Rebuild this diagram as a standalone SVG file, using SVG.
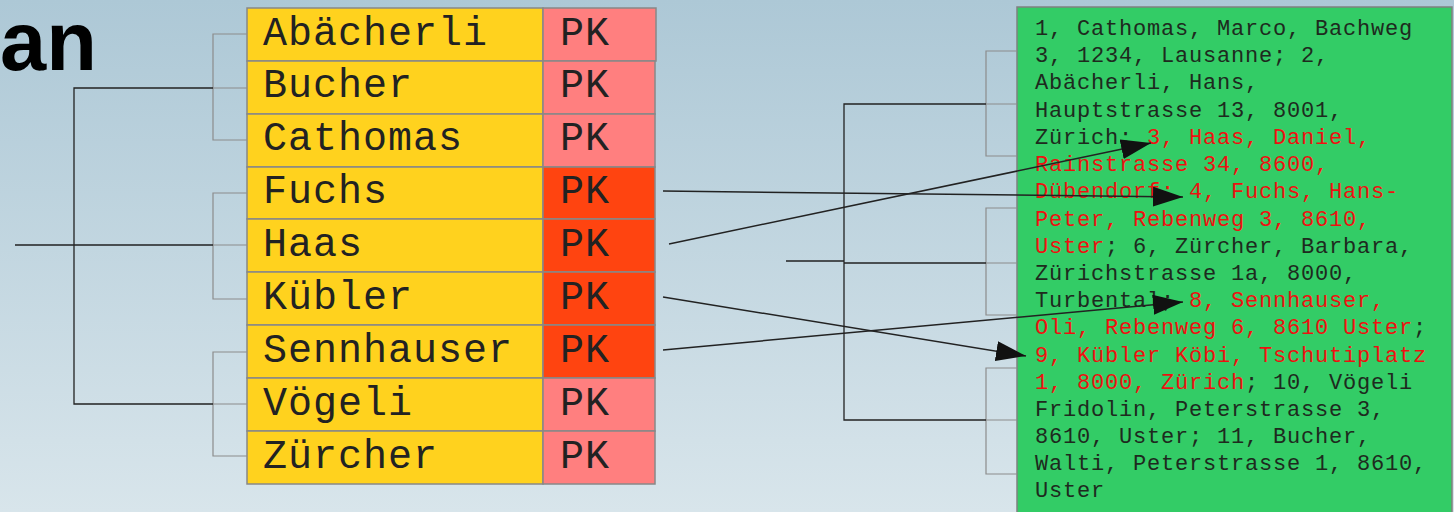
<svg xmlns="http://www.w3.org/2000/svg" width="1454" height="512" viewBox="0 0 1454 512">
<defs>
<linearGradient id="bg" x1="0" y1="0" x2="0" y2="1">
<stop offset="0" stop-color="#adc8d6"/>
<stop offset="1" stop-color="#d8e5eb"/>
</linearGradient>
<marker id="ah" markerUnits="userSpaceOnUse" markerWidth="32" markerHeight="22" refX="30" refY="10" orient="auto">
<path d="M0,0 L30,10 L0,20 z" fill="#111"/>
</marker>
<style>
.nm{fill:#ffd21e;stroke:#888;stroke-width:1.5}
.pk{fill:#ff7f7f;stroke:#888;stroke-width:1.5}
.pkh{fill:#ff4410;stroke:#888;stroke-width:1.5}
.t{font-family:"Liberation Mono",monospace;font-size:40px;letter-spacing:1px;fill:#222}
.g{font-family:"Liberation Mono",monospace;font-size:22px;letter-spacing:0.8px;fill:#1e2a1e}
.r{fill:#ee1111}
.br{fill:none;stroke:#8c8c8c;stroke-width:1.2}
.bk{fill:none;stroke:#222;stroke-width:1.3}
.ar{fill:none;stroke:#222;stroke-width:1.5;marker-end:url(#ah)}
</style>
</defs>
<rect width="1454" height="512" fill="url(#bg)"/>
<text x="0" y="70" font-family="Liberation Sans, Arial, sans-serif" font-weight="bold" font-size="83" fill="#000">an</text>

<g id="row-abaecherli"><rect class="nm" x="247" y="8" width="296" height="53"/><rect class="pk" x="543" y="8" width="113" height="53"/><text class="t" x="263" y="45">Abächerli</text><text class="t" x="560" y="45">PK</text></g>
<g id="row-bucher"><rect class="nm" x="247" y="61" width="296" height="53"/><rect class="pk" x="543" y="61" width="112" height="53"/><text class="t" x="263" y="97">Bucher</text><text class="t" x="560" y="97">PK</text></g>
<g id="row-cathomas"><rect class="nm" x="247" y="114" width="296" height="53"/><rect class="pk" x="543" y="114" width="112" height="53"/><text class="t" x="263" y="150">Cathomas</text><text class="t" x="560" y="150">PK</text></g>
<g id="row-fuchs"><rect class="nm" x="247" y="167" width="296" height="52"/><rect class="pkh" x="543" y="167" width="112" height="52"/><text class="t" x="263" y="203">Fuchs</text><text class="t" x="560" y="203">PK</text></g>
<g id="row-haas"><rect class="nm" x="247" y="219" width="296" height="53"/><rect class="pkh" x="543" y="219" width="112" height="53"/><text class="t" x="263" y="256">Haas</text><text class="t" x="560" y="256">PK</text></g>
<g id="row-kuebler"><rect class="nm" x="247" y="272" width="296" height="53"/><rect class="pkh" x="543" y="272" width="112" height="53"/><text class="t" x="263" y="309">Kübler</text><text class="t" x="560" y="309">PK</text></g>
<g id="row-sennhauser"><rect class="nm" x="247" y="325" width="296" height="53"/><rect class="pkh" x="543" y="325" width="112" height="53"/><text class="t" x="263" y="362">Sennhauser</text><text class="t" x="560" y="362">PK</text></g>
<g id="row-voegeli"><rect class="nm" x="247" y="378" width="296" height="53"/><rect class="pk" x="543" y="378" width="112" height="53"/><text class="t" x="263" y="415">Vögeli</text><text class="t" x="560" y="415">PK</text></g>
<g id="row-zuercher"><rect class="nm" x="247" y="431" width="296" height="53"/><rect class="pk" x="543" y="431" width="112" height="53"/><text class="t" x="263" y="468">Zürcher</text><text class="t" x="560" y="468">PK</text></g>

<g id="data-block">
<rect x="1017" y="7" width="435" height="520" fill="#33cc66" stroke="#808080" stroke-width="1.5"/>
<text class="g" x="1035" y="35">1, Cathomas, Marco, Bachweg</text>
<text class="g" x="1035" y="62">3, 1234, Lausanne; 2,</text>
<text class="g" x="1035" y="89">Abächerli, Hans,</text>
<text class="g" x="1035" y="117">Hauptstrasse 13, 8001,</text>
<text class="g" x="1035" y="144">Zürich; <tspan class="r">3, Haas, Daniel,</tspan></text>
<text class="g r" x="1035" y="171">Rainstrasse 34, 8600,</text>
<text class="g r" x="1035" y="198">Dübendorf; 4, Fuchs, Hans-</text>
<text class="g r" x="1035" y="226">Peter, Rebenweg 3, 8610,</text>
<text class="g" x="1035" y="253"><tspan class="r">Uster</tspan>; 6, Zürcher, Barbara,</text>
<text class="g" x="1035" y="280">Zürichstrasse 1a, 8000,</text>
<text class="g" x="1035" y="307">Turbental; <tspan class="r">8, Sennhauser,</tspan></text>
<text class="g" x="1035" y="334"><tspan class="r">Oli, Rebenweg 6, 8610 Uster</tspan>;</text>
<text class="g r" x="1035" y="362">9, Kübler Köbi, Tschutiplatz</text>
<text class="g" x="1035" y="389"><tspan class="r">1, 8000, Zürich</tspan>; 10, Vögeli</text>
<text class="g" x="1035" y="416">Fridolin, Peterstrasse 3,</text>
<text class="g" x="1035" y="443">8610, Uster; 11, Bucher,</text>
<text class="g" x="1035" y="470">Walti, Peterstrasse 1, 8610,</text>
<text class="g" x="1035" y="497">Uster</text>
</g>

<g id="connectors">
<g id="left-tree">
<path class="br" d="M247,34 H213 V140 H247 M213,88 H247 M247,193 H213 V299 H247 M213,245 H247 M247,352 H213 V456 H247 M213,404 H247"/>
<path class="bk" d="M213,88 H74 V404 H213 M15,245 H213"/>
</g>
<g id="right-tree">
<path class="br" d="M1017,51 H986 V156 H1017 M986,104 H1017 M1017,208 H986 V315 H1017 M986,263 H1017 M1017,368 H986 V474 H1017 M986,420 H1017"/>
<path class="bk" d="M986,104 H844 V420 H986 M986,263 H844 M786,261 H844"/>
</g>
<g id="arrows">
<line class="ar" x1="663" y1="191" x2="1183" y2="197"/>
<line class="ar" x1="669" y1="244" x2="1151" y2="143"/>
<line class="ar" x1="663" y1="297" x2="1026" y2="356"/>
<line class="ar" x1="663" y1="350" x2="1183" y2="302"/>
</g>
</g>
</svg>
